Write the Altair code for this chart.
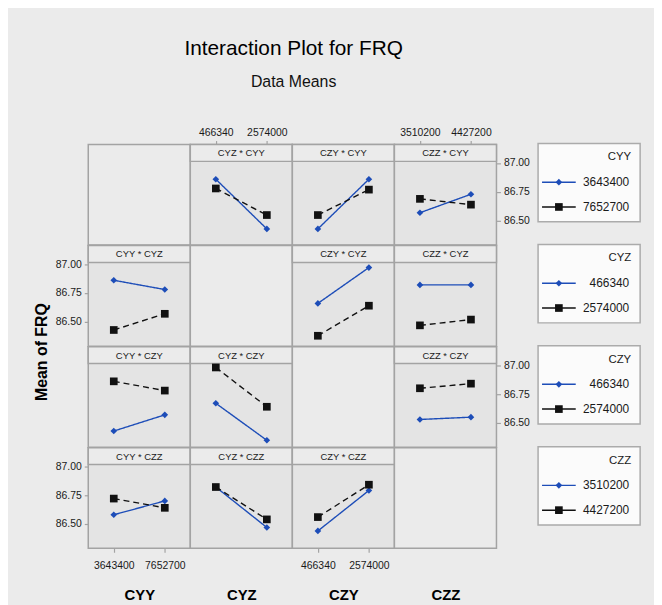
import altair as alt
import pandas as pd

# ---------------- data ----------------
FACTORS = ["CYY", "CYZ", "CZY", "CZZ"]
cyy_levels = ["3643400", "7652700"]
cyz_levels = ["466340", "2574000"]
czy_levels = ["466340", "2574000"]
czz_levels = ["3510200", "4427200"]
LEVELS = {"CYY": cyy_levels, "CYZ": cyz_levels, "CZY": czy_levels, "CZZ": czz_levels}

# mean of FRQ: [trace level][x level]  (panel name = x-factor * trace-factor)
cyz_by_cyy = [[86.86, 86.43], [86.78, 86.55]]
czy_by_cyy = [[86.43, 86.86], [86.55, 86.77]]
czz_by_cyy = [[86.57, 86.73], [86.69, 86.64]]
cyy_by_cyz = [[86.86, 86.78], [86.43, 86.57]]
czy_by_cyz = [[86.66, 86.97], [86.38, 86.64]]
czz_by_cyz = [[86.82, 86.82], [86.47, 86.52]]
cyy_by_czy = [[86.43, 86.57], [86.86, 86.78]]
cyz_by_czy = [[86.67, 86.35], [86.98, 86.64]]
czz_by_czy = [[86.53, 86.55], [86.80, 86.84]]
cyy_by_czz = [[86.58, 86.70], [86.72, 86.64]]
cyz_by_czz = [[86.82, 86.47], [86.82, 86.54]]
czy_by_czz = [[86.44, 86.79], [86.56, 86.84]]

MEANS = {
    ("CYZ", "CYY"): cyz_by_cyy, ("CZY", "CYY"): czy_by_cyy, ("CZZ", "CYY"): czz_by_cyy,
    ("CYY", "CYZ"): cyy_by_cyz, ("CZY", "CYZ"): czy_by_cyz, ("CZZ", "CYZ"): czz_by_cyz,
    ("CYY", "CZY"): cyy_by_czy, ("CYZ", "CZY"): cyz_by_czy, ("CZZ", "CZY"): czz_by_czy,
    ("CYY", "CZZ"): cyy_by_czz, ("CYZ", "CZZ"): cyz_by_czz, ("CZY", "CZZ"): czy_by_czz,
}
Y_TICKS = [86.5, 86.75, 87.0]
TRACE_KEYS = ["lo", "hi"]

# ---------------- style ----------------
W, H, HDR = 103, 101.5, 17
BG = "#ebebeb"
PANEL = "#e4e4e4"
GRID = "#a3a3a3"
BLUE = "#1d4db8"
BLACK = "#111111"
YDOM = [86.29, 87.16]
FONT = "Liberation Sans, Arial, sans-serif"
TXT = "#1a1a1a"

color_enc = alt.Color("k:N", scale=alt.Scale(domain=TRACE_KEYS, range=[BLUE, BLACK]), legend=None)
shape_enc = alt.Shape("k:N", scale=alt.Scale(domain=TRACE_KEYS, range=["diamond", "square"]), legend=None)
size_enc = alt.Size("k:N", scale=alt.Scale(domain=TRACE_KEYS, range=[45, 60]), legend=None)
dash_enc = alt.StrokeDash("k:N", scale=alt.Scale(domain=TRACE_KEYS, range=[[1, 0], [6, 4]]), legend=None)

AX_COMMON = dict(grid=False, domain=False, tickSize=4, tickColor=GRID, tickWidth=1.2,
                 labelFont=FONT, labelFontSize=10.5, labelColor=TXT)


def x_axis(r, c):
    if r == 0 and c in (1, 3):
        return alt.Axis(orient="top", title=None, labelAngle=0, labelPadding=3, **AX_COMMON)
    if r == 3:
        show = c in (0, 2)
        return alt.Axis(orient="bottom", title=FACTORS[c], titleFont=FONT, titleFontSize=15,
                        titleFontWeight="bold", titleColor="#000", titleY=47, titleBaseline="middle",
                        labels=show, ticks=show, labelAngle=0, labelPadding=8, **AX_COMMON)
    return None


def y_axis(r, c):
    common = dict(values=Y_TICKS, format=".2f", labelPadding=3, **AX_COMMON)
    if c == 0 and r in (1, 3):
        if r == 1:
            return alt.Axis(orient="left", title="Mean of FRQ", titleX=-47, titleY=107,
                            titleBaseline="middle", titleAngle=270, titleFont=FONT,
                            titleFontSize=16, titleFontWeight="bold", titleColor="#000", **common)
        return alt.Axis(orient="left", title=None, **common)
    if c == 3 and r in (0, 2):
        return alt.Axis(orient="right", title=None, **common)
    return None


def data_panel(r, c):
    tf, xf = FACTORS[r], FACTORS[c]
    m = MEANS[(xf, tf)]
    rows = []
    for i, tl in enumerate(LEVELS[tf]):
        for j, xl in enumerate(LEVELS[xf]):
            rows.append({"x": xl, "k": TRACE_KEYS[i], "mean": m[i][j]})
    df = pd.DataFrame(rows)
    xenc = alt.X("x:N", sort=LEVELS[xf], scale=alt.Scale(domain=LEVELS[xf], padding=0.5), axis=x_axis(r, c))
    yenc = alt.Y("mean:Q", scale=alt.Scale(domain=YDOM, nice=False, zero=False), axis=y_axis(r, c))
    hdr_df = pd.DataFrame({"h": [f"{xf} * {tf}"]})
    hdr_rect = alt.Chart(hdr_df).mark_rect(fill=BG, stroke=GRID, strokeWidth=1.5).encode(
        x=alt.value(0), x2=alt.value(W), y=alt.value(0), y2=alt.value(HDR))
    hdr_text = alt.Chart(hdr_df).mark_text(font=FONT, fontSize=9.5, color=TXT).encode(
        x=alt.value(W / 2), y=alt.value(HDR / 2 + 0.5), text="h:N")
    line = alt.Chart(df).mark_line(strokeWidth=1.4).encode(x=xenc, y=yenc, color=color_enc, strokeDash=dash_enc)
    pts = alt.Chart(df).mark_point(filled=True, opacity=1).encode(
        x=xenc, y=yenc, color=color_enc, shape=shape_enc, size=size_enc)
    return alt.layer(hdr_rect, hdr_text, line, pts).properties(
        width=W, height=H, view=alt.ViewBackground(fill=PANEL, stroke=GRID, strokeWidth=1.5))


def empty_cell(r, c):
    if r == 3:
        xf = FACTORS[c]
        base = alt.Chart(pd.DataFrame({"x": LEVELS[xf]})).mark_point(opacity=0).encode(
            x=alt.X("x:N", sort=LEVELS[xf], scale=alt.Scale(domain=LEVELS[xf], padding=0.5), axis=x_axis(3, c)),
            y=alt.value(0))
    else:
        base = alt.Chart(pd.DataFrame({"x": [""]})).mark_point(opacity=0).encode(
            x=alt.value(0), y=alt.value(0))
    return base.properties(width=W, height=H, view=alt.ViewBackground(fill=BG, stroke=GRID, strokeWidth=1.5))


def legend_cell(r):
    tf = FACTORS[r]
    lv = LEVELS[tf]
    df = pd.DataFrame({"level": lv, "k": TRACE_KEYS, "idx": [0, 1]})
    # idx 0 -> 38 px, idx 1 -> 63 px from the top of the cell
    yenc = alt.Y("idx:Q", scale=alt.Scale(domain=[-1.52, 2.54], reverse=True, nice=False, zero=False), axis=None)
    tdf = pd.DataFrame({"t": [tf]})
    box = alt.Chart(tdf).mark_rect(fill="#fbfbfb", stroke="#ababab", strokeWidth=1.5).encode(
        x=alt.value(42), x2=alt.value(145), y=alt.value(-1), y2=alt.value(78))
    title = alt.Chart(tdf).mark_text(align="right", font=FONT, fontSize=11.5, color=TXT).encode(
        x=alt.value(136), y=alt.value(13), text="t:N")
    rule = alt.Chart(df).mark_rule(strokeWidth=1.5).encode(
        x=alt.value(46), x2=alt.value(80), y=yenc, color=color_enc)
    pts = alt.Chart(df).mark_point(filled=True, opacity=1).encode(
        x=alt.value(63), y=yenc, color=color_enc, shape=shape_enc, size=size_enc)
    txt = alt.Chart(df).mark_text(align="right", font=FONT, fontSize=12, color=TXT).encode(
        x=alt.value(134), y=yenc, text="level:N")
    return alt.layer(box, title, rule, pts, txt).properties(
        width=145, height=H, view=alt.ViewBackground(fill="transparent", stroke="transparent"))


cells = []
for r in range(4):
    for c in range(4):
        cells.append(empty_cell(r, c) if r == c else data_panel(r, c))
    cells.append(legend_cell(r))

chart = alt.concat(*cells, columns=5, spacing=0, bounds="flush").properties(
    title=alt.TitleParams(
        text="Interaction Plot for FRQ", subtitle="Data Means", anchor="middle", frame="bounds",
        dx=-44, font=FONT, fontSize=21, fontWeight="normal", color="#000",
        subtitleFont=FONT, subtitleFontSize=16, subtitleColor="#111", subtitlePadding=16, offset=37),
    padding={"left": 25, "top": 27, "right": 12, "bottom": 5},
    background=BG,
)

chart.save("out.html", embed_options={"renderer": "svg", "actions": False})
